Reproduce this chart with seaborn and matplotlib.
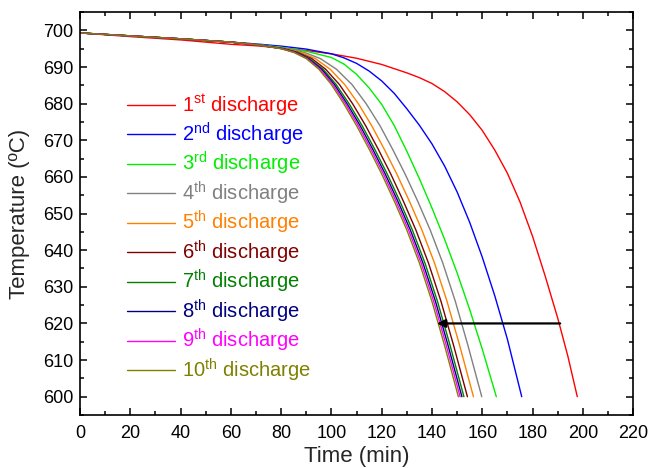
import pandas as pd
import seaborn as sns
import matplotlib.pyplot as plt
from matplotlib.ticker import MultipleLocator

# Discharge curves (time in min, temperature in degC)
t_1st = [0, 20, 40, 60, 70, 80, 90, 100, 110, 120, 130, 135, 140, 145, 150,
         155, 160, 165, 170, 175, 180, 185, 190, 194, 197.8]
temp_1st = [699.3, 698.3, 697.4, 696.2, 695.8, 695.2, 694.5, 693.6, 692.4,
            690.7, 688.4, 687.1, 685.5, 683.3, 680.5, 677.0, 672.7, 667.3,
            661.0, 653.2, 643.8, 633.0, 621.5, 611.2, 600.0]

t_2nd = [0, 20, 40, 60, 70, 80, 90, 100, 105, 110, 115, 120, 125, 130, 135,
         140, 145, 150, 155, 160, 165, 170, 175.7]
temp_2nd = [699.3, 698.5, 697.7, 696.8, 696.3, 695.7, 694.9, 693.6, 692.5,
            691.0, 688.9, 686.2, 682.8, 678.6, 674.1, 669.0, 663.0, 655.9,
            647.6, 638.1, 627.5, 615.7, 600.0]

t_3rd = [0, 20, 40, 60, 70, 80, 90, 100, 105, 110, 115, 120, 125, 130, 135,
         140, 145, 150, 155, 160, 165.6]
temp_3rd = [699.3, 698.5, 697.7, 696.8, 696.2, 695.4, 694.3, 692.6, 690.8,
            688.0, 684.3, 679.8, 674.0, 667.0, 659.5, 651.5, 643.0, 633.8,
            623.8, 613.0, 600.0]

# 4th..10th discharges share the same temperature readings
temp_late = [699.3, 698.5, 697.7, 696.8, 696.1, 695.0, 694.0, 692.3, 689.4,
             685.2, 679.9, 674.0, 667.6, 660.8, 653.4, 645.5, 636.5, 626.0,
             614.0, 600.0]
t_4th = [0, 20, 40, 60, 70, 82.8, 89.2, 95.6, 102.0, 108.2, 113.9, 119.3,
         124.3, 129.3, 134.3, 139.3, 144.3, 149.3, 154.3, 159.8]
t_5th = [0, 20, 40, 60, 70, 81.8, 87.7, 93.6, 99.5, 105.3, 110.8, 116.0,
         121.0, 126.0, 131.0, 136.0, 141.0, 146.0, 151.0, 156.5]
t_6th = [0, 20, 40, 60, 70, 81.1, 86.6, 92.2, 97.7, 103.2, 108.5, 113.6,
         118.6, 123.6, 128.6, 133.6, 138.6, 143.6, 148.6, 154.1]
t_7th = [0, 20, 40, 60, 70, 80.7, 86.0, 91.3, 96.7, 101.9, 107.1, 112.2,
         117.2, 122.2, 127.2, 132.2, 137.2, 142.2, 147.2, 152.7]
t_8th = [0, 20, 40, 60, 70, 80.4, 85.6, 90.8, 96.1, 101.2, 106.3, 111.4,
         116.4, 121.4, 126.4, 131.4, 136.4, 141.4, 146.4, 151.9]
t_9th = [0, 20, 40, 60, 70, 80.2, 85.3, 90.4, 95.5, 100.6, 105.7, 110.7,
         115.7, 120.7, 125.7, 130.7, 135.7, 140.7, 145.7, 151.2]
t_10th = [0, 20, 40, 60, 70, 80, 85, 90, 95, 100, 105, 110, 115, 120, 125,
          130, 135, 140, 145, 150.5]

labels = ["1$^{st}$ discharge", "2$^{nd}$ discharge", "3$^{rd}$ discharge",
          "4$^{th}$ discharge", "5$^{th}$ discharge", "6$^{th}$ discharge",
          "7$^{th}$ discharge", "8$^{th}$ discharge", "9$^{th}$ discharge",
          "10$^{th}$ discharge"]
colors = ["#FF0000", "#0000FF", "#00EE00", "#808080", "#FF8000",
          "#800000", "#008000", "#000080", "#FF00FF", "#808000"]

# arrow showing the shortening of discharge time at 620 degC
arrow_temp = 620
arrow_from = 191
arrow_to = 142

series = [
    (t_1st, temp_1st), (t_2nd, temp_2nd), (t_3rd, temp_3rd),
    (t_4th, temp_late), (t_5th, temp_late), (t_6th, temp_late),
    (t_7th, temp_late), (t_8th, temp_late), (t_9th, temp_late),
    (t_10th, temp_late),
]
frames = []
for label, (t, temp) in zip(labels, series):
    frames.append(pd.DataFrame({"time": t, "temp": temp, "run": label}))
df = pd.concat(frames, ignore_index=True)

sns.set_style("ticks")
plt.rcParams["font.family"] = ["Liberation Sans", "DejaVu Sans"]
plt.rcParams["mathtext.default"] = "regular"

fig = plt.figure(figsize=(6.48, 4.68), dpi=100)
ax = fig.add_axes([0.1235, 0.1132, 0.8535, 0.861])

sns.lineplot(data=df, x="time", y="temp", hue="run", hue_order=labels,
             palette=colors, estimator=None, sort=False, linewidth=1.0,
             legend=False, ax=ax)

ax.annotate("", xy=(arrow_to, arrow_temp), xytext=(arrow_from, arrow_temp),
            arrowprops=dict(arrowstyle="-|>", color="black", lw=1.6,
                            mutation_scale=12, shrinkA=0, shrinkB=0))

ax.set_xlim(0, 220)
ax.set_ylim(595, 705)
ax.xaxis.set_major_locator(MultipleLocator(20))
ax.xaxis.set_minor_locator(MultipleLocator(10))
ax.yaxis.set_major_locator(MultipleLocator(10))
ax.yaxis.set_minor_locator(MultipleLocator(5))
ax.tick_params(which="both", direction="in", top=True, right=True,
               width=1.1, labelsize=13, colors="black")
ax.tick_params(which="major", length=5)
ax.tick_params(which="minor", length=3)
ax.tick_params(axis="x", which="major", pad=7)
ax.tick_params(axis="y", which="major", pad=5)
for sp in ax.spines.values():
    sp.set_linewidth(1.2)
    sp.set_color("black")

ax.set_xlabel("Time (min)", fontsize=16, labelpad=3)
ax.set_ylabel("Temperature (ºC)", fontsize=16, labelpad=9)

leg = ax.legend(ax.get_lines()[:10], labels, loc="upper left",
                bbox_to_anchor=(0.085, 0.80), frameon=False, fontsize=14.5,
                handlelength=2.4, handletextpad=0.35, labelspacing=0.115,
                borderpad=0, borderaxespad=0, labelcolor="linecolor")

fig.savefig("out.png", dpi=100)
